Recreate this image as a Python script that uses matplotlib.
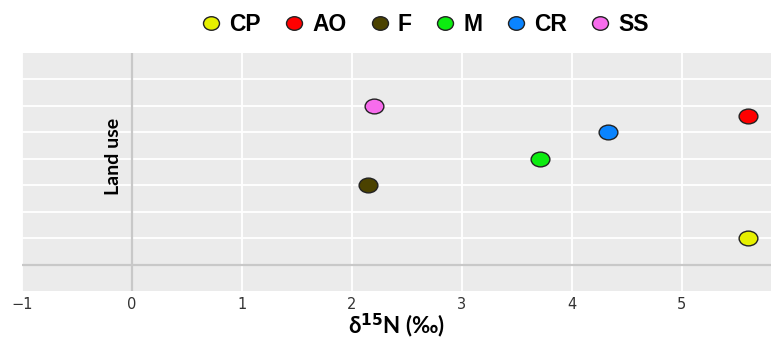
import matplotlib.pyplot as plt
from matplotlib.lines import Line2D
from matplotlib.path import Path
from matplotlib.transforms import Affine2D

# data
groups = ["CP", "AO", "F", "M", "CR", "SS"]
d15n = [5.60, 5.60, 2.15, 3.71, 4.33, 2.20]
ypos = [1.0, 5.6, 3.0, 4.0, 5.0, 6.0]
colors = ["#E6F000", "#FF0000", "#4B4200", "#0CEC10", "#0A84FF", "#F76CEC"]
xticks = [-1, 0, 1, 2, 3, 4, 5]

# stretched circles, as in the reference
wide_dot = Path.unit_circle().transformed(Affine2D().scale(1.27, 1.0))
leg_dot = Path.unit_circle().transformed(Affine2D().scale(1.18, 1.0))

fig = plt.figure(figsize=(7.71, 3.42), dpi=100)
ax = fig.add_axes([0.0285, 0.149, 0.9715, 0.696])
ax.set_facecolor("#EBEBEB")

ax.set_xlim(-1.0, 5.81)
ax.set_ylim(-1.0, 8.0)
ax.set_xticks(xticks)
ax.set_xticklabels([str(t).replace("-", "\u2212") for t in xticks])
ax.set_yticks(range(0, 8))
ax.grid(True, color="white", linewidth=1.3)
ax.set_axisbelow(True)
ax.tick_params(axis="x", length=0, pad=4, labelsize=10.5, labelcolor="#333333")
ax.tick_params(axis="y", length=0, labelleft=False)
for s in ax.spines.values():
    s.set_visible(False)

ax.axvline(0, color="#C8C8C8", linewidth=1.6, zorder=1)
ax.axhline(0, color="#C8C8C8", linewidth=1.6, zorder=1)

for x, y, c in zip(d15n, ypos, colors):
    ax.plot(x, y, linestyle="none", marker=wide_dot, markersize=13.5,
            markerfacecolor=c, markeredgecolor="#222222", markeredgewidth=1.0, zorder=3)

ax.text(-0.17, 4.1, "Land use", rotation=90, ha="center", va="center",
        fontsize=14, fontweight="bold", family="Lato", color="black")

ax.set_xlabel("δ$^{\\mathbf{15}}$N (‰)", fontsize=16, fontweight="bold", family="Lato",
              labelpad=0)

handles = [Line2D([], [], linestyle="none", marker=leg_dot, markersize=11.5,
                  markerfacecolor=c, markeredgecolor="#222222", markeredgewidth=1.0)
           for c in colors]
fig.legend(handles, groups, loc="center", bbox_to_anchor=(0.55, 0.928), ncol=6,
           frameon=False, handletextpad=0.3, columnspacing=0.95, handlelength=1.0,
           prop={"family": "Liberation Sans", "weight": "bold", "size": 16.5})

fig.savefig("out.png", dpi=100)
